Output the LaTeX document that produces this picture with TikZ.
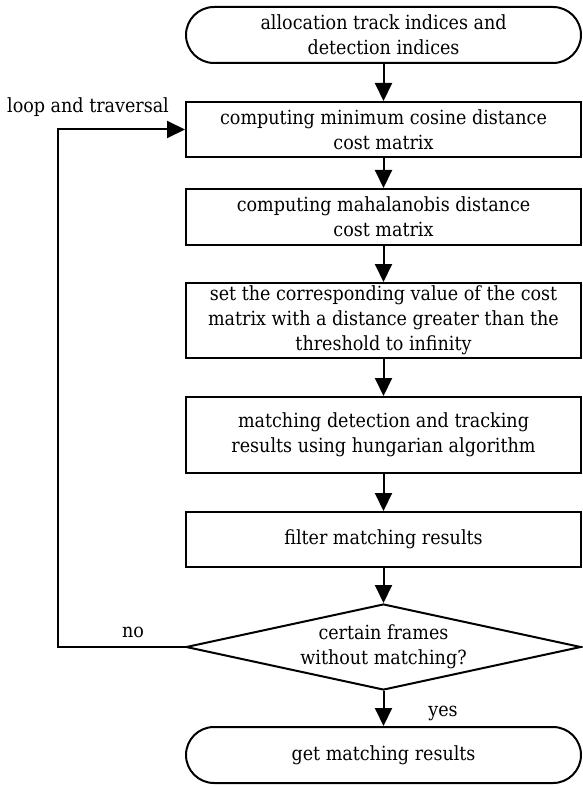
\documentclass[tikz,border=0pt]{standalone}
\usepackage{fontspec}
\setmainfont{DejaVu Serif Condensed}
\usetikzlibrary{arrows.meta,shapes.geometric}
\begin{document}
\begin{tikzpicture}[x=1pt,y=-1pt,
  txt/.style={font=\fontsize{19.5}{25}\selectfont},
  box/.style={txt,draw,line width=2pt,minimum width=395pt,align=center,inner sep=0pt},
  term/.style={box,rounded corners=28pt},
  dia/.style={txt,draw,line width=2pt,shape=diamond,aspect=4.6,minimum width=395pt,minimum height=86pt,align=center,inner sep=0pt},
  lab/.style={txt,inner sep=0pt},
  arr/.style={line width=2pt,-{Triangle[length=18pt,width=17pt]}}
]
\useasboundingbox (0,0) rectangle (582,786);
\node[term, minimum height=56pt] (t1) at (383.5,35) {allocation track indices and\\detection indices};
\node[box, minimum height=55pt] (b1) at (383.5,129.5) {computing minimum cosine distance\\cost matrix};
\node[box, minimum height=56pt] (b2) at (383.5,217) {computing mahalanobis distance\\cost matrix};
\node[box, minimum height=75pt] (b3) at (383.5,320.5) {set the corresponding value of the cost\\matrix with a distance greater than the\\threshold to infinity};
\node[box, minimum height=76pt] (b4) at (383.5,435) {matching detection and tracking\\results using hungarian algorithm};
\node[box, minimum height=55pt] (b5) at (383.5,539.5) {filter matching results};
\node[dia] (d) at (383.5,647) {certain frames\\without matching?};
\node[term, minimum height=56pt] (t2) at (383.5,755) {get matching results};
\draw[arr] (t1.south) -- (b1.north);
\draw[arr] (b1.south) -- (b2.north);
\draw[arr] (b2.south) -- (b3.north);
\draw[arr] (b3.south) -- (b4.north);
\draw[arr] (b4.south) -- (b5.north);
\draw[arr] (b5.south) -- (d.north);
\draw[arr] (d.south) -- (t2.north);
\coordinate (lb) at (57.5,647);
\draw[arr] (d.west) -- (lb) |- (b1.west);
\node[lab] (lt) at (88,107) {loop and traversal};
\node[lab] (no) at (133,632) {no};
\node[lab] (yes) at (443,713) {yes};
\end{tikzpicture}
\end{document}
